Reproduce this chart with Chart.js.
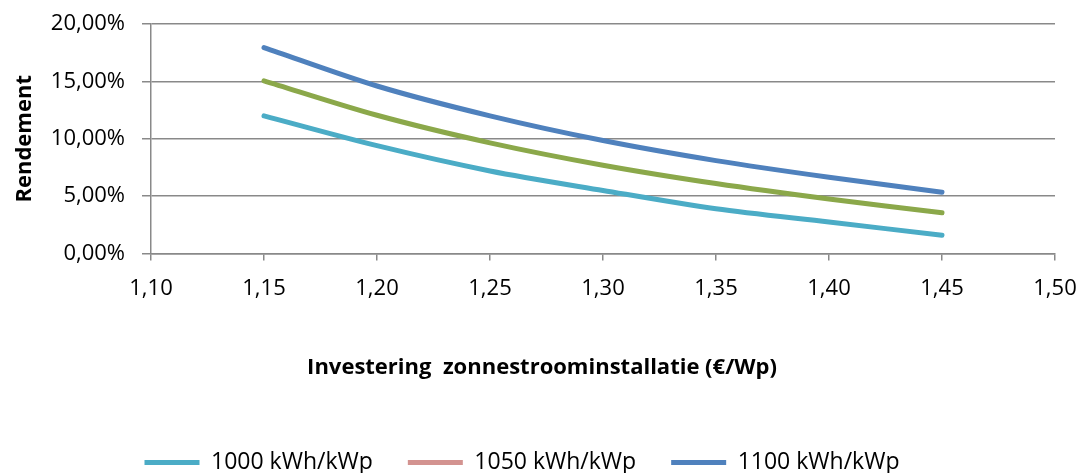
<!DOCTYPE html>
<html>
<head>
<meta charset="utf-8">
<script src="https://cdn.jsdelivr.net/npm/chart.js@4/dist/chart.umd.min.js"></script>
<style>
  html, body { margin: 0; padding: 0; background: #fff; }
  #wrap { width: 1084px; height: 473px; }
</style>
</head>
<body>
<div id="wrap"><canvas id="mainChart" width="1084" height="473"></canvas></div>
<script>
// Data
const investering = [1.15, 1.20, 1.25, 1.30, 1.35, 1.40, 1.45];
const rend1000 = [12.0, 9.4, 7.2, 5.5, 3.9, 2.75, 1.6];
const rend1050 = [15.05, 12.05, 9.65, 7.7, 6.1, 4.75, 3.55];
const rend1100 = [17.95, 14.6, 12.0, 9.85, 8.1, 6.65, 5.35];
const seriesLabels = ['1000 kWh/kWp', '1050 kWh/kWp', '1100 kWh/kWp'];
const lineColors = ['#4BACC6', '#8BA84A', '#4F81BD'];
const legendColors = ['#4BACC6', '#D39390', '#4F81BD'];

const toPoints = arr => arr.map((v, i) => ({ x: investering[i], y: v }));
const gridColor = '#898989';
const fontFam = '"Open Sans", sans-serif';

// legend sits a little left of the page centre in the original
const shiftLegend = {
    id: 'shiftLegend',
    afterLayout(chart) {
        chart.legend.left -= 20;
        chart.legend.right -= 20;
    }
};

const ctx = document.getElementById('mainChart');
new Chart(ctx, {
    type: 'line',
    data: {
        datasets: [rend1000, rend1050, rend1100].map((d, i) => ({
            label: seriesLabels[i],
            data: toPoints(d),
            borderColor: lineColors[i],
            backgroundColor: lineColors[i],
            borderWidth: 5,
            borderCapStyle: 'round',
            pointRadius: 0,
            tension: 0.3,
            fill: false
        }))
    },
    plugins: [shiftLegend],
    options: {
        responsive: false,
        animation: false,
        layout: { padding: { top: 24, right: 0, bottom: -11, left: 0 } },
        plugins: {
            legend: {
                position: 'bottom',
                labels: {
                    color: '#000',
                    font: { family: fontFam, size: 23 },
                    boxWidth: 55,
                    boxHeight: 5,
                    padding: 35,
                    generateLabels: chart => chart.data.datasets.map((ds, i) => ({
                        text: ds.label,
                        fillStyle: legendColors[i],
                        strokeStyle: legendColors[i],
                        lineWidth: 0,
                        datasetIndex: i,
                        hidden: false
                    }))
                }
            },
            title: {
                display: true,
                position: 'bottom',
                weight: 500,
                text: 'Investering  zonnestroominstallatie (€/Wp)',
                color: '#000',
                font: { family: fontFam, size: 22, weight: 'bold' },
                padding: { top: 46, bottom: 35 }
            },
            tooltip: { enabled: false }
        },
        scales: {
            x: {
                type: 'linear',
                min: 1.1,
                max: 1.5,
                ticks: {
                    stepSize: 0.05,
                    color: '#000',
                    padding: 15,
                    font: { family: fontFam, size: 22 },
                    callback: v => v.toFixed(2).replace('.', ',')
                },
                grid: {
                    drawOnChartArea: false,
                    color: gridColor,
                    lineWidth: 1.5,
                    tickLength: 7
                },
                border: { color: gridColor, width: 1.5 },
                afterFit: scale => {
                    scale.height = 55;
                    scale.paddingLeft = 0;
                    scale.paddingRight = 29;
                }
            },
            y: {
                min: 0,
                max: 20,
                ticks: {
                    stepSize: 5,
                    color: '#000',
                    padding: 17,
                    font: { family: fontFam, size: 22 },
                    callback: v => v.toFixed(2).replace('.', ',') + '%'
                },
                grid: {
                    color: gridColor,
                    lineWidth: 1.5,
                    tickLength: 9
                },
                border: { color: gridColor, width: 1.5 },
                title: {
                    display: true,
                    text: 'Rendement',
                    color: '#000',
                    font: { family: fontFam, size: 22, weight: 'bold' },
                    padding: { top: 12, bottom: 0 }
                },
                afterFit: scale => {
                    scale.width = 151;
                    scale.paddingTop = 0;
                    scale.paddingBottom = 0;
                }
            }
        }
    }
});
</script>
</body>
</html>
